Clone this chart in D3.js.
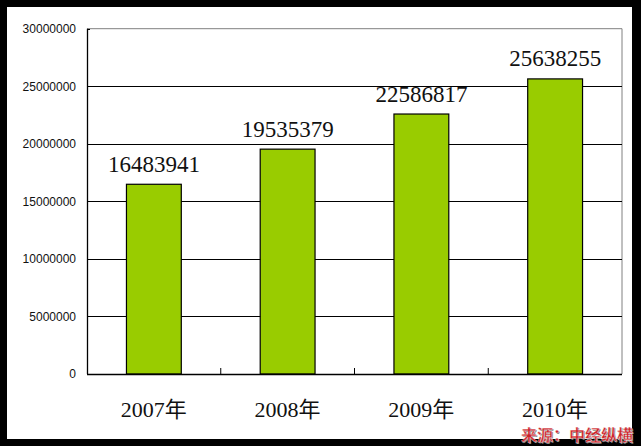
<!DOCTYPE html>
<html><head><meta charset="utf-8">
<script src="https://cdn.jsdelivr.net/npm/d3@7"></script>
<style>body{margin:0;padding:0;background:#000;} svg{display:block;}</style>
</head><body>
<script>
const categories = ["2007年", "2008年", "2009年", "2010年"];
const values = [16483941, 19535379, 22586817, 25638255];
const yTicks = [0, 5000000, 10000000, 15000000, 20000000, 25000000, 30000000];
const sourceText = "来源：中经纵横";

const W = 641, H = 446;
const svg = d3.select("body").append("svg").attr("width", W).attr("height", H);
svg.append("rect").attr("width", W).attr("height", H).attr("fill", "#000");
svg.append("rect").attr("x", 7).attr("y", 7).attr("width", 625).attr("height", 432).attr("fill", "#fff");

const L = 87, R = 622, T = 28.7, B = 374;
const y = d3.scaleLinear().domain([0, 30000000]).range([B, T]);
const x = d3.scaleBand().domain(categories).range([L, R]).paddingInner(0.59).paddingOuter(0.295);
const step = x.step();

// plot border (gray) top & right
svg.append("line").attr("x1", L).attr("x2", R).attr("y1", T).attr("y2", T).attr("stroke", "#808080").attr("stroke-width", 1);
svg.append("line").attr("x1", R).attr("x2", R).attr("y1", T).attr("y2", B).attr("stroke", "#808080").attr("stroke-width", 1);

// gridlines
svg.append("g").selectAll("line").data(yTicks.filter(d => d > 0 && d < 30000000)).join("line")
  .attr("x1", L).attr("x2", R)
  .attr("y1", d => Math.round(y(d)) + 0.5).attr("y2", d => Math.round(y(d)) + 0.5)
  .attr("stroke", "#000").attr("stroke-width", 1);

// y axis labels
svg.append("g").selectAll("text").data(yTicks).join("text")
  .attr("x", 76).attr("y", d => y(d)).attr("dy", "0.36em")
  .attr("text-anchor", "end")
  .attr("font-family", "Liberation Sans, Arial, sans-serif").attr("font-size", 12)
  .attr("fill", "#111").text(d => d3.format("d")(d));

// bars
svg.append("g").selectAll("rect").data(values).join("rect")
  .attr("x", (d, i) => x(categories[i])).attr("width", x.bandwidth())
  .attr("y", d => y(d)).attr("height", d => B - y(d))
  .attr("fill", "#99CC00").attr("stroke", "#000").attr("stroke-width", 1.2);

// axes lines
svg.append("line").attr("x1", L + 0.5).attr("x2", L + 0.5).attr("y1", T).attr("y2", B).attr("stroke", "#000").attr("stroke-width", 1.3);
svg.append("line").attr("x1", L).attr("x2", R).attr("y1", B + 0.5).attr("y2", B + 0.5).attr("stroke", "#000").attr("stroke-width", 1.3);
// y ticks (small, inside)
svg.append("g").selectAll("line").data(yTicks).join("line")
  .attr("x1", L).attr("x2", L + 3).attr("y1", d => Math.round(y(d)) + 0.5).attr("y2", d => Math.round(y(d)) + 0.5)
  .attr("stroke", "#000");
// x ticks at category boundaries
svg.append("g").selectAll("line").data(categories.slice(1)).join("line")
  .attr("x1", d => x(d) - x.step() * x.paddingInner() / 2).attr("x2", d => x(d) - x.step() * x.paddingInner() / 2)
  .attr("y1", B - 6).attr("y2", B).attr("stroke", "#000").attr("stroke-width", 1);

// value labels
svg.append("g").selectAll("text").data(values).join("text")
  .attr("x", (d, i) => x(categories[i]) + x.bandwidth() / 2)
  .attr("y", d => y(d) - 12.5)
  .attr("text-anchor", "middle")
  .attr("font-family", "Liberation Serif, Times New Roman, serif").attr("font-size", 23)
  .attr("fill", "#111").text(d => d);

// category labels
svg.append("g").selectAll("text").data(categories).join("text")
  .attr("x", d => x(d) + x.bandwidth() / 2)
  .attr("y", 417)
  .attr("text-anchor", "middle")
  .attr("font-family", "Liberation Serif, 'Noto Sans CJK SC', serif").attr("font-size", 22)
  .attr("fill", "#111").text(d => d);

// source
const src = svg.append("g");
src.append("text").attr("x", 633).attr("y", 440.5).attr("text-anchor", "end")
  .attr("font-family", "'Noto Sans CJK SC', sans-serif").attr("font-size", 16).attr("font-weight", "bold")
  .attr("fill", "#888").attr("transform", "translate(1,1)").text(sourceText);
src.append("text").attr("x", 633).attr("y", 440.5).attr("text-anchor", "end")
  .attr("font-family", "'Noto Sans CJK SC', sans-serif").attr("font-size", 16).attr("font-weight", "bold")
  .attr("fill", "#cc2229").attr("stroke", "#fff").attr("stroke-width", 0.3).text(sourceText);
</script>
</body></html>
